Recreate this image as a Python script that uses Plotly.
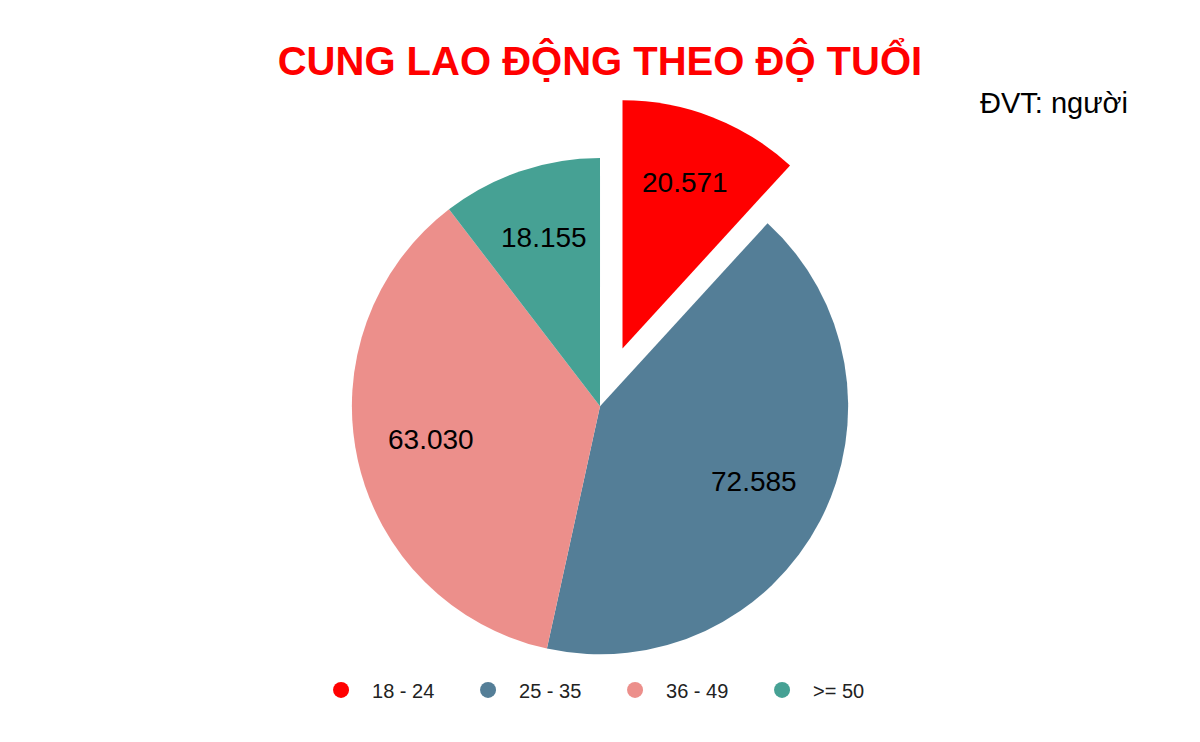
import math
import plotly.graph_objects as go

categories = ["18 - 24", "25 - 35", "36 - 49", ">= 50"]
values = [20571, 72585, 63030, 18155]
value_labels = ["20.571", "72.585", "63.030", "18.155"]
colors = ["#FF0000", "#547E97", "#EC8F8B", "#46A194"]
pulls = [0.25, 0, 0, 0]

W, H = 1200, 742
# pie geometry in figure pixels
CX, CY, R = 592, 394, 248
LABEL_FRAC = 0.7

fig = go.Figure()
fig.add_trace(go.Pie(
    labels=categories,
    values=values,
    textinfo="none",
    marker=dict(colors=colors, line=dict(width=0)),
    pull=pulls,
    sort=False,
    direction="clockwise",
    rotation=0,
    showlegend=False,
    hoverinfo="label+value",
    domain=dict(x=[0, 0.9867], y=[0.0453, 0.8813]),
))

# value labels placed at the middle angle of each slice
annotations = []
total = sum(values)
cum = 0
for v, txt, p in zip(values, value_labels, pulls):
    mid = (cum + v / 2) / total * 2 * math.pi
    cum += v
    d = R * (LABEL_FRAC + p)
    px = CX + d * math.sin(mid)
    py = CY - d * math.cos(mid)
    annotations.append(dict(text=txt, x=px / W, y=1 - py / H, xref="paper", yref="paper",
                            xanchor="center", yanchor="middle", showarrow=False,
                            font=dict(family="Liberation Sans, Arial", size=28, color="black")))

annotations.append(dict(text="ĐVT: người", x=0.935, xanchor="right", y=0.872, yanchor="middle",
                        xref="paper", yref="paper", showarrow=False,
                        font=dict(family="Liberation Sans, Arial", size=29, color="black")))

for cat, col in zip(categories, colors):
    fig.add_trace(go.Scatter(
        x=[None], y=[None], mode="markers", name=cat,
        marker=dict(symbol="circle", size=16, color=col),
        showlegend=True,
    ))

fig.update_layout(
    width=W, height=H,
    margin=dict(l=0, r=0, t=0, b=0),
    paper_bgcolor="white", plot_bgcolor="white",
    title=dict(text="<b>CUNG LAO ĐỘNG THEO ĐỘ TUỔI</b>", x=0.4933, xanchor="center",
               y=0.929, yanchor="middle",
               font=dict(family="Liberation Sans, Arial", size=40, color="#FF0000")),
    xaxis=dict(visible=False), yaxis=dict(visible=False),
    legend=dict(orientation="h", x=0.4967, xanchor="center", y=0.081, yanchor="middle",
                font=dict(family="Liberation Sans, Arial", size=20, color="#222222"),
                itemsizing="trace", itemwidth=52, entrywidth=80, entrywidthmode="pixels"),
    annotations=annotations,
)

fig.write_html("out.html")
